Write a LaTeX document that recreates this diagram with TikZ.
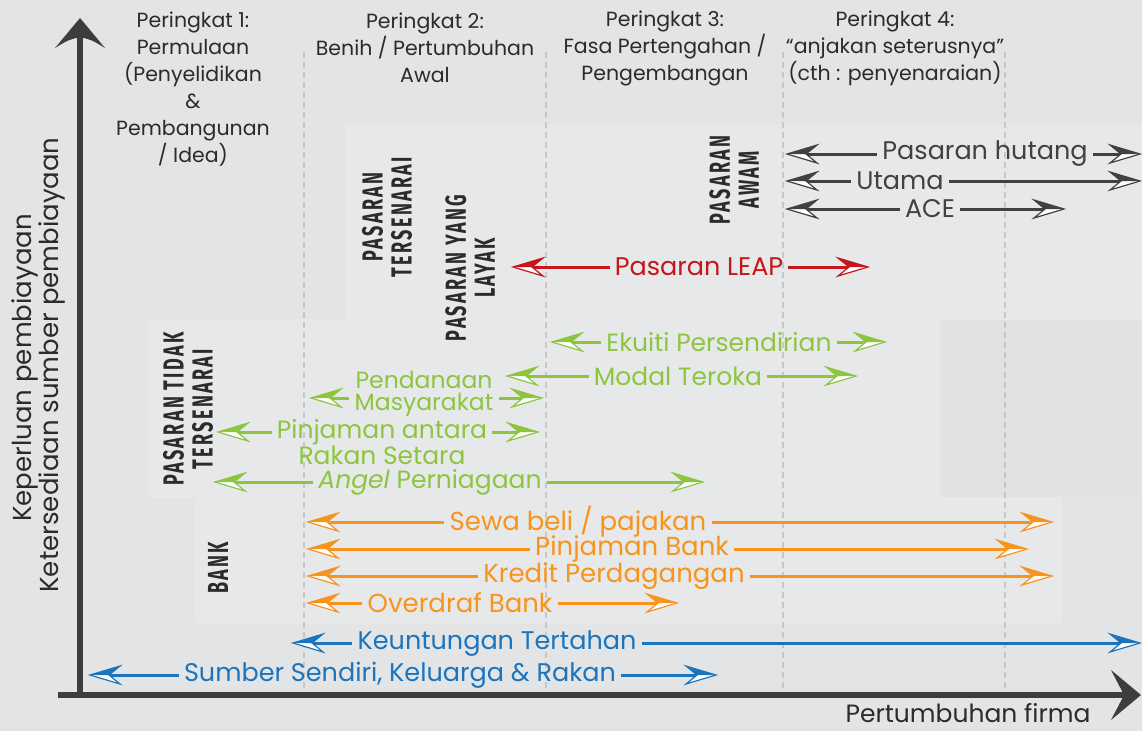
\documentclass[tikz,border=0pt]{standalone}
\usepackage{fontspec}
\setmainfont{Poppins}
\newfontfamily\condf[FakeStretch=0.62,LetterSpace=8]{Fira Sans}
\usetikzlibrary{calc}
\definecolor{bgc}{HTML}{E3E4E5}
\definecolor{panelA}{HTML}{E7E8E9}
\definecolor{panelB}{HTML}{E1E2E3}
\definecolor{dashc}{HTML}{C6C7C9}
\definecolor{axisc}{HTML}{3D3D3D}
\definecolor{darkc}{HTML}{404143}
\definecolor{txtc}{HTML}{2B2B2B}
\definecolor{redc}{HTML}{C4161C}
\definecolor{greenc}{HTML}{8CC63F}
\definecolor{orangec}{HTML}{F7941D}
\definecolor{bluec}{HTML}{1C75BC}
\tikzset{
  pics/ahd/.style={code={
    \fill[white] (0,0) -- (-30,9) -- (-19,0) -- cycle;
    \fill[#1] (0,0) -- (-30,-9) -- (-19,0) -- cycle;
    \draw[#1, line width=1.2pt, line join=miter] (0,0) -- (-30,-9) -- (-19,0) -- (-30,9) -- cycle;
  }},
  lbl/.style={text=#1, inner sep=0pt, inner xsep=5pt},
  ln/.style={draw=#1, line width=3pt, shorten >=18pt},
  hdr/.style={text=txtc, align=center, font=\fontsize{20.5}{27}\selectfont},
  vlab/.style={text=txtc, rotate=90, align=center, font=\condf\bfseries\fontsize{29}{29}\selectfont},
  dashln/.style={draw=dashc, line width=2pt, dash pattern=on 6pt off 4pt},
}
\newcommand\rarrow[7]{%
  \node[lbl=#2] (#1) at (#3,#4) {#7};
  \coordinate (#1L) at (#5,#4);
  \coordinate (#1R) at (#6,#4);
  \draw[ln=#2] (#1) -- (#1L);
  \draw[ln=#2] (#1) -- (#1R);
  \pic[xscale=-1] at (#1L) {ahd=#2};
  \pic at (#1R) {ahd=#2};
}
\begin{document}
\begin{tikzpicture}[x=1pt,y=-1pt]
\fill[bgc] (0,0) rectangle (1142,731);
\useasboundingbox (0,0) rectangle (1142,731);
% panels
\fill[panelA] (346,125) rectangle (1142,320);
\fill[panelA] (148,319) rectangle (1142,498);
\fill[panelA] (195,498) rectangle (1062,623);
\fill[panelB] (940,320) rectangle (1142,497);
% dashed stage separators
\foreach \xx/\nm in {304/d1,546/d2,783/d3,1005/d4}{
  \coordinate (\nm t) at (\xx,52);
  \coordinate (\nm b) at (\xx,693);
  \draw[dashln] (\nm t) -- (\nm b);
}
% headers
\node[hdr] (h1) at (193,89) {Peringkat 1:\\Permulaan\\(Penyelidikan\\\&\\Pembangunan\\/ Idea)};
\node[hdr] (h2) at (425,48) {Peringkat 2:\\Benih / Pertumbuhan\\Awal};
\node[hdr] (h3) at (665,48) {Peringkat 3:\\Fasa Pertengahan /\\Pengembangan};
\node[hdr] (h4) at (895,48) {Peringkat 4:\\“anjakan seterusnya”\\(cth : penyenaraian)};
% vertical condensed labels
\node[vlab] (v1) at (387,217) {PASARAN\\TERSENARAI};
\node[vlab] (v2) at (470,268) {PASARAN YANG\\LAYAK};
\node[vlab] (v3) at (734,180) {PASARAN\\AWAM};
\node[vlab] (v4) at (188,409) {PASARAN TIDAK\\TERSENARAI};
\node[vlab] (v5) at (218,568) {BANK};
% dark group
\begin{scope}[every node/.append style={font=\fontsize{25.5}{27}\selectfont}]
\rarrow{ph}{darkc}{985}{154}{787}{1140}{Pasaran hutang}
\rarrow{ut}{darkc}{900}{181}{787}{1140}{Utama}
\rarrow{ace}{darkc}{930}{209}{787}{1064}{ACE}
\end{scope}
% red
\begin{scope}[every node/.append style={font=\fontsize{25.5}{27}\selectfont}]
\rarrow{leap}{redc}{699}{267}{513}{868}{Pasaran LEAP}
\end{scope}
% green
\begin{scope}[every node/.append style={font=\fontsize{25}{21.5}\selectfont}]
\rarrow{eku}{greenc}{719}{342}{552}{885}{Ekuiti Persendirian}
\rarrow{mod}{greenc}{678}{376}{507}{856}{Modal Teroka}
\node[lbl=greenc, align=center, font=\fontsize{23.5}{22.5}\selectfont] (pend) at (424,394) {Pendanaan\\Masyarakat};
\coordinate (pendL) at (311,398);
\coordinate (pendR) at (542,398);
\draw[ln=greenc] (pend.west |- pendL) -- (pendL);
\draw[ln=greenc] (pend.east |- pendR) -- (pendR);
\pic[xscale=-1] at (pendL) {ahd=greenc};
\pic at (pendR) {ahd=greenc};
\node[lbl=greenc, align=center] (pin) at (382,442) {Pinjaman antara\\Rakan Setara};
\coordinate (pinL) at (218,432);
\coordinate (pinR) at (538,432);
\draw[ln=greenc] (pin.west |- pinL) -- (pinL);
\draw[ln=greenc] (pin.east |- pinR) -- (pinR);
\pic[xscale=-1] at (pinL) {ahd=greenc};
\pic at (pinR) {ahd=greenc};
\rarrow{ang}{greenc}{430}{482}{215}{703}{\textit{Angel} Perniagaan}
\end{scope}
% orange
\begin{scope}[every node/.append style={font=\fontsize{26}{26}\selectfont}]
\rarrow{sewa}{orangec}{578}{522}{308}{1052}{Sewa beli / pajakan}
\rarrow{pb}{orangec}{632}{549}{308}{1027}{Pinjaman Bank}
\rarrow{kp}{orangec}{614}{576}{308}{1052}{Kredit Perdagangan}
\rarrow{ob}{orangec}{460}{603}{308}{677}{Overdraf Bank}
\end{scope}
% blue
\begin{scope}[every node/.append style={font=\fontsize{25.5}{26}\selectfont}]
\rarrow{kt}{bluec}{497}{643}{293}{1140}{Keuntungan Tertahan}
\rarrow{ss}{bluec}{400}{675}{90}{716}{Sumber Sendiri, Keluarga \& Rakan}
\end{scope}
% axes
\coordinate (org) at (80,695);
\coordinate (ytip) at (80,18);
\coordinate (xstart) at (58,695);
\coordinate (xtip) at (1141,695);
\draw[axisc, line width=6pt] (80,698) -- (80,36);
\draw[axisc, line width=6pt] (xstart) -- (1126,695);
\fill[axisc] (ytip) -- (105,48) .. controls (92,40) .. (80,37) .. controls (68,40) .. (55,48) -- cycle;
\fill[axisc] (xtip) -- (1111,720) .. controls (1118,708) .. (1124,695) .. controls (1118,682) .. (1111,670) -- cycle;
\node[text=txtc, rotate=90, font=\fontsize{26}{28}\selectfont] (ylab1) at (25,368) {Keperluan pembiayaan};
\node[text=txtc, rotate=90, font=\fontsize{26}{28}\selectfont] (ylab2) at (52,365) {Ketersediaan sumber pembiayaan};
\node[text=txtc, font=\fontsize{25}{27}\selectfont] (xlab) at (968,713) {Pertumbuhan firma};
\end{tikzpicture}
\end{document}
